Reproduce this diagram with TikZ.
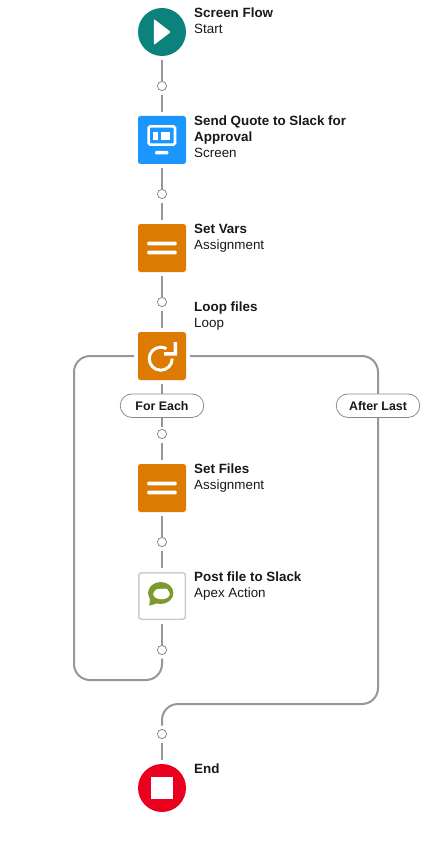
\documentclass[tikz,border=0pt]{standalone}
\usepackage{fontspec}
\setmainfont{Liberation Sans}
\definecolor{teal}{HTML}{0B827C}
\definecolor{blue}{HTML}{1B96FF}
\definecolor{orng}{HTML}{DD7A01}
\definecolor{redd}{HTML}{EA001E}
\definecolor{wire}{HTML}{969696}
\definecolor{ink}{HTML}{181818}
\definecolor{ring}{HTML}{8A8A8A}
\definecolor{olive}{HTML}{7C9A2E}
\tikzset{
 x=1pt,y=-1pt,
 round/.style={circle,minimum size=48pt,inner sep=0,fill=#1},
 sq/.style={rectangle,rounded corners=2.5pt,minimum size=48pt,inner sep=0,fill=#1},
 dot/.style={circle,minimum size=9.2pt,inner sep=0,draw=ring,line width=.8pt,fill=white},
 pill/.style={rectangle,rounded corners=11.7pt,minimum width=83.5pt,minimum height=23.5pt,inner sep=0,draw=ring,line width=.8pt,fill=white,text=ink,font=\fontsize{12.4}{14}\selectfont\bfseries},
 wr/.style={draw=wire,line width=2pt},
 ttl/.style={anchor=base west,inner sep=0,text=ink,font=\fontsize{13.4}{16}\selectfont\bfseries},
 sub/.style={anchor=base west,inner sep=0,text=ink,font=\fontsize{13.4}{16}\selectfont},
 ic/.style={white,line width=2.6pt},
}
\begin{document}
\begin{tikzpicture}
\useasboundingbox (0,0) rectangle (434,845);
% nodes
\node[round=teal] (start) at (162,32) {};
\node[sq=blue] (screen) at (162,140) {};
\node[sq=orng] (vars) at (162,248) {};
\node[sq=orng] (loop) at (162,356) {};
\node[sq=orng] (files) at (162,488) {};
\node[rectangle,rounded corners=2.5pt,minimum size=46.5pt,inner sep=0,draw=black!20,line width=1.5pt,fill=white] (post) at (162,596) {};
\node[round=redd] (end) at (162,788) {};
\node[dot] (d1) at (162,86) {};
\node[dot] (d2) at (162,194) {};
\node[dot] (d3) at (162,302) {};
\node[dot] (d4) at (162,434) {};
\node[dot] (d5) at (162,542) {};
\node[dot] (d6) at (162,650) {};
\node[dot] (d7) at (162,734) {};
\coordinate (lw) at (74,356);
\coordinate (lb) at (74,680);
\coordinate (lc) at (162,680);
\coordinate (rn) at (378,356);
\coordinate (rs) at (378,704);
\coordinate (rc) at (162,704);
% connectors
\draw[wr,shorten <=4pt] (start) -- (d1);
\draw[wr,shorten <=3.6pt,shorten >=4pt] (d1) -- (screen);
\draw[wr,shorten <=4pt] (screen) -- (d2);
\draw[wr,shorten <=3.6pt,shorten >=4pt] (d2) -- (vars);
\draw[wr,shorten <=4pt] (vars) -- (d3);
\draw[wr,shorten <=3.6pt,shorten >=4pt] (d3) -- (loop);
\draw[wr,shorten <=3.6pt,shorten >=4pt] (d4) -- (files);
\draw[wr,shorten <=4pt] (files) -- (d5);
\draw[wr,shorten <=3.6pt,shorten >=4pt] (d5) -- (post);
\draw[wr,shorten <=4pt] (post) -- (d6);
\draw[wr,shorten <=3.6pt,shorten >=4pt] (d7) -- (end);
\draw[wr,shorten <=4pt,shorten >=3.5pt,rounded corners=16pt] (loop.west) -- (lw) -- (lb) -- (lc) -- (d6.south);
\draw[wr,shorten <=4pt,shorten >=3.5pt,rounded corners=16pt] (loop.east) -- (rn) -- (rs) -- (rc) -- (d7.north);
\node[pill] (each) at (162,405.7) {For Each};
\node[pill] (last) at (378,405.7) {After Last};
\draw[wr,shorten <=4pt] (loop) -- (each);
\draw[wr,shorten >=2.5pt] (each) -- (d4);
% labels
\node[ttl] (t1) at (194,17.5) {Screen Flow};
\node[sub] (s1) at (194,33.5) {Start};
\node[ttl] (t2a) at (194,125.5) {Send Quote to Slack for};
\node[ttl] (t2b) at (194,141.5) {Approval};
\node[sub] (s2) at (194,157.5) {Screen};
\node[ttl] (t3) at (194,233.5) {Set Vars};
\node[sub] (s3) at (194,249.5) {Assignment};
\node[ttl] (t4) at (194,311.5) {Loop files};
\node[sub] (s4) at (194,327.5) {Loop};
\node[ttl] (t5) at (194,473.5) {Set Files};
\node[sub] (s5) at (194,489.5) {Assignment};
\node[ttl] (t6) at (194,581.5) {Post file to Slack};
\node[sub] (s6) at (194,597.5) {Apex Action};
\node[ttl] (t7) at (194,773.5) {End};
% icons
\fill[white,rounded corners=1pt] (153.9,19) -- (170.8,32) -- (153.9,45) -- cycle;
\draw[ic,rounded corners=1.5pt] (148.6,126.4) rectangle (175,144.6);
\fill[white] (153.3,132.3) rectangle (158.3,140);
\fill[white] (160.7,132.3) rectangle (170,140);
\fill[white,rounded corners=1pt] (155,154.3) -- (155,151) -- (168.4,151) -- (168.4,154.3) -- cycle;
\foreach \y in {248,488}{
 \fill[white,rounded corners=.8pt] (147.3,\y-6.3) rectangle (176.7,\y-2.7);
 \fill[white,rounded corners=.8pt] (147.3,\y+2.7) rectangle (176.7,\y+6.3);
}
\draw[ic,line width=3pt] (172.2,358.7) arc[start angle=0,end angle=300,radius=11.5];
\fill[white] (164,352.2) -- (173.5,352.2) -- (173.5,342) -- (177,342) -- (177,355.6) -- (164,355.6) -- cycle;
\fill[olive] (160.7,593) ellipse[x radius=12.7,y radius=11];
\fill[olive] (150,598) -- (149.3,605.7) -- (157.5,603.2) -- cycle;
\fill[white] (161.5,594) ellipse[x radius=8.3,y radius=5.3];
\fill[white] (165,592) circle[radius=3.6];
\fill[white] (158,592) circle[radius=3];
\fill[white] (150.7,776.7) rectangle (173.3,799.3);
\end{tikzpicture}
\end{document}
